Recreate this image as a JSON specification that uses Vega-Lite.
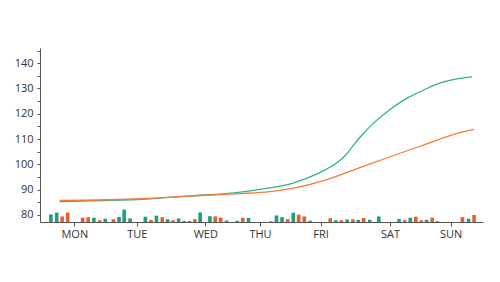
{
  "$schema": "https://vega.github.io/schema/vega-lite/v6.json",
  "width": 443,
  "height": 174,
  "autosize": {"type": "none"},
  "padding": {"left": 40, "top": 48, "right": 17, "bottom": 60},
  "background": "white",
  "config": {
    "view": {"stroke": null},
    "axis": {"grid": false, "domainColor": "#555", "tickColor": "#555", "labelColor": "#333", "labelFont": "Open Sans", "labelFontSize": 11, "tickSize": 3}
  },
  "datasets": {
    "lines": [
      {"series": "green", "x": 15, "v": 85.3},
      {"series": "green", "x": 60, "v": 85.7},
      {"series": "green", "x": 100, "v": 86.2},
      {"series": "green", "x": 150, "v": 87.5},
      {"series": "green", "x": 200, "v": 89.0},
      {"series": "green", "x": 220, "v": 90.1},
      {"series": "green", "x": 253, "v": 92.5},
      {"series": "green", "x": 280, "v": 96.5},
      {"series": "green", "x": 297, "v": 100.2},
      {"series": "green", "x": 307, "v": 103.4},
      {"series": "green", "x": 314, "v": 106.8},
      {"series": "green", "x": 322, "v": 110.6},
      {"series": "green", "x": 337, "v": 116.6},
      {"series": "green", "x": 353, "v": 121.7},
      {"series": "green", "x": 370, "v": 126.1},
      {"series": "green", "x": 387, "v": 129.3},
      {"series": "green", "x": 403, "v": 132.0},
      {"series": "green", "x": 420, "v": 133.7},
      {"series": "green", "x": 437, "v": 134.6},
      {"series": "orange", "x": 15, "v": 85.7},
      {"series": "orange", "x": 100, "v": 86.4},
      {"series": "orange", "x": 150, "v": 87.5},
      {"series": "orange", "x": 200, "v": 88.4},
      {"series": "orange", "x": 230, "v": 89.2},
      {"series": "orange", "x": 253, "v": 90.5},
      {"series": "orange", "x": 287, "v": 93.8},
      {"series": "orange", "x": 320, "v": 98.4},
      {"series": "orange", "x": 353, "v": 103.0},
      {"series": "orange", "x": 387, "v": 107.6},
      {"series": "orange", "x": 420, "v": 112.0},
      {"series": "orange", "x": 439, "v": 113.8}
    ],
    "bars": [
      {"series": "green", "x": 6, "v": 80.2},
      {"series": "green", "x": 12, "v": 80.9},
      {"series": "green", "x": 50, "v": 78.9},
      {"series": "green", "x": 61.7, "v": 78.5},
      {"series": "green", "x": 75.7, "v": 79.2},
      {"series": "green", "x": 81, "v": 82.1},
      {"series": "green", "x": 87, "v": 78.6},
      {"series": "green", "x": 102.7, "v": 79.3},
      {"series": "green", "x": 114, "v": 79.7},
      {"series": "green", "x": 125.5, "v": 78.3},
      {"series": "green", "x": 136.7, "v": 78.6},
      {"series": "green", "x": 142.3, "v": 77.6},
      {"series": "green", "x": 158.7, "v": 81.0},
      {"series": "green", "x": 168.7, "v": 79.5},
      {"series": "green", "x": 185.7, "v": 77.8},
      {"series": "green", "x": 196.7, "v": 77.7},
      {"series": "green", "x": 208.2, "v": 78.8},
      {"series": "green", "x": 236.8, "v": 79.8},
      {"series": "green", "x": 242.5, "v": 79.1},
      {"series": "green", "x": 254, "v": 80.9},
      {"series": "green", "x": 271.2, "v": 77.7},
      {"series": "green", "x": 297.5, "v": 77.9},
      {"series": "green", "x": 309.2, "v": 78.2},
      {"series": "green", "x": 320.5, "v": 78.0},
      {"series": "green", "x": 332.2, "v": 78.1},
      {"series": "green", "x": 341.5, "v": 79.4},
      {"series": "green", "x": 362.2, "v": 78.4},
      {"series": "green", "x": 373.7, "v": 78.9},
      {"series": "green", "x": 390.4, "v": 78.1},
      {"series": "green", "x": 401.4, "v": 77.5},
      {"series": "green", "x": 433.3, "v": 78.5},
      {"series": "orange", "x": 17.5, "v": 79.4},
      {"series": "orange", "x": 23.2, "v": 80.9},
      {"series": "orange", "x": 38.5, "v": 78.9},
      {"series": "orange", "x": 44.2, "v": 79.1},
      {"series": "orange", "x": 56, "v": 77.9},
      {"series": "orange", "x": 70, "v": 78.3},
      {"series": "orange", "x": 108.5, "v": 78.0},
      {"series": "orange", "x": 120, "v": 79.1},
      {"series": "orange", "x": 131, "v": 77.9},
      {"series": "orange", "x": 148, "v": 77.6},
      {"series": "orange", "x": 153.3, "v": 78.3},
      {"series": "orange", "x": 174.2, "v": 79.4},
      {"series": "orange", "x": 179.8, "v": 78.9},
      {"series": "orange", "x": 202.3, "v": 78.9},
      {"series": "orange", "x": 231, "v": 77.5},
      {"series": "orange", "x": 248.3, "v": 78.3},
      {"series": "orange", "x": 259.5, "v": 80.1},
      {"series": "orange", "x": 265.3, "v": 79.4},
      {"series": "orange", "x": 291.8, "v": 78.7},
      {"series": "orange", "x": 303.2, "v": 77.9},
      {"series": "orange", "x": 315, "v": 78.3},
      {"series": "orange", "x": 326, "v": 78.8},
      {"series": "orange", "x": 368, "v": 77.9},
      {"series": "orange", "x": 379.3, "v": 79.3},
      {"series": "orange", "x": 385, "v": 77.9},
      {"series": "orange", "x": 396.2, "v": 78.9},
      {"series": "orange", "x": 427, "v": 79.1},
      {"series": "orange", "x": 439, "v": 80.0}
    ]
  },
  "encoding": {
    "x": {
      "field": "x", "type": "quantitative",
      "scale": {"domain": [0, 443], "nice": false, "zero": false},
      "axis": {
        "title": null,
        "values": [30, 94, 164, 220, 282, 353, 415],
        "labelExpr": "{'30':'MON','94':'TUE','164':'WED','220':'THU','282':'FRI','353':'SAT','415':'SUN'}[datum.value]",
        "labelPadding": 2,
        "labelOverlap": false,
        "tickSize": 4
      }
    },
    "y": {
      "field": "v", "type": "quantitative",
      "scale": {"domain": [77.2, 146], "nice": false, "zero": false},
      "axis": {
        "title": null,
        "values": [80, 85, 90, 95, 100, 105, 110, 115, 120, 125, 130, 135, 140, 145],
        "labelExpr": "datum.value % 10 == 0 ? datum.value : ''",
        "labelOverlap": false,
        "labelPadding": 4
      }
    }
  },
  "layer": [
    {
      "data": {"name": "bars"},
      "mark": {"type": "bar", "size": 3.6},
      "encoding": {
        "y2": {"datum": 77.2},
        "color": {
          "field": "series", "type": "nominal",
          "scale": {"domain": ["green", "orange"], "range": ["#1fa07a", "#f15a24"]},
          "legend": null
        }
      }
    },
    {
      "data": {"name": "lines"},
      "mark": {"type": "line", "interpolate": "monotone", "strokeWidth": 1.3},
      "encoding": {
        "color": {
          "field": "series", "type": "nominal",
          "scale": {"domain": ["green", "orange"], "range": ["#2fb48c", "#f47c3c"]},
          "legend": null
        }
      }
    }
  ],
  "resolve": {"scale": {"color": "independent"}}
}
